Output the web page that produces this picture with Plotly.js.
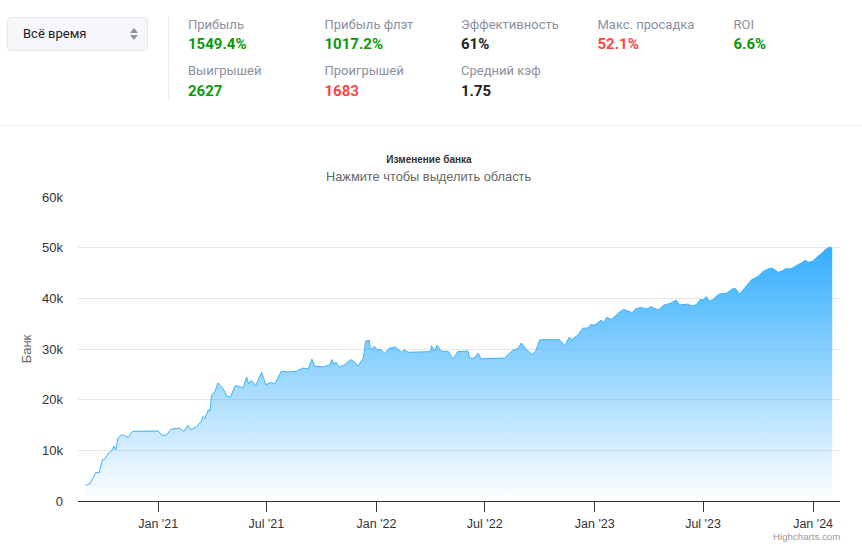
<!DOCTYPE html>
<html><head><meta charset="utf-8">
<script src="https://cdn.plot.ly/plotly-3.0.1.min.js"></script>
<style>
html,body{margin:0;padding:0;background:#fff;width:862px;height:547px;overflow:hidden;font-family:Roboto,sans-serif}
#chart{position:absolute;left:0;top:0;width:862px;height:547px}
.abs{position:absolute;white-space:nowrap}
.lab{font-size:13px;color:#8b90a0;line-height:16px}
.val{font-size:15px;font-weight:700;line-height:18px}
#sel{left:7px;top:17px;width:139px;height:32px;background:#f5f7fa;border:1px solid #e4e7ed;border-radius:4px;box-sizing:content-box}
</style></head><body>
<div id="chart"></div>
<div id="head"></div>
<script>
var baseDate = '2021-01-01';
var dayOffsets = [-121,-114,-104,-99,-93,-89,-83,-77,-74,-71,-67,-61,-56,-50,-43,0,6,13,22,36,43,50,54,64,72,75,78,84,87,89,95,100,109,115,121,128,132,142,148,151,156,163,173,180,189,195,206,217,231,242,251,257,262,276,287,291,294,297,303,312,322,329,334,343,347,353,355,362,366,373,379,386,397,407,412,418,455,457,462,466,474,485,493,501,518,521,528,535,540,579,593,602,607,616,625,631,638,671,680,687,692,702,710,719,723,730,741,745,750,758,769,778,793,797,806,817,824,836,846,856,866,872,886,892,899,907,911,917,921,927,934,939,950,959,964,967,972,977,984,992,998,1003,1011,1017,1026,1031,1037,1044,1050,1056,1062,1070,1076,1082,1087,1094,1101,1109,1116,1123,1127];
var bank = [3090,3420,5660,5530,8160,8290,9470,10000,10800,10100,12440,13100,12900,12570,13750,13820,13030,12900,14200,14400,13700,14900,14080,14600,15700,16700,16200,18000,17700,20800,21650,23300,22100,20660,20500,22600,22750,22300,24470,23150,23800,22750,25400,22950,23400,23100,25600,25460,25600,26250,26050,28000,26600,26450,26900,27900,26900,27400,26400,26900,27900,27400,26600,28200,31570,31700,29870,30500,29870,29870,29080,30130,30400,29350,29870,29350,29480,30650,29540,30720,29540,29540,28040,29480,29600,28230,28170,29200,28040,28230,29740,30130,31180,29870,28890,29540,31830,31830,30650,32290,31830,32800,34120,34120,34780,34720,35700,35180,36240,35840,37030,37820,37160,37820,38200,37900,38350,37700,38680,39000,39670,38680,38880,38480,38680,39800,39670,40330,39470,39670,40530,40870,41000,41800,42000,41670,40800,41530,42470,43670,44000,44330,45270,45670,46000,45670,45130,45470,45870,45800,46070,46670,47000,47530,47130,47330,48000,48870,49670,50130,49870];
var tickDates = ['2021-01-01','2021-07-01','2022-01-01','2022-07-01','2023-01-01','2023-07-01','2024-01-01'];
var tickLabels = ["Jan '21","Jul '21","Jan '22","Jul '22","Jan '23","Jul '23","Jan '24"];
var yTicks = [0,10000,20000,30000,40000,50000,60000];
var yLabels = ['0','10k','20k','30k','40k','50k','60k'];

var statLabels = ['Прибыль','Прибыль флэт','Эффективность','Макс. просадка','ROI','Выигрышей','Проигрышей','Средний кэф'];
var statValues = ['1549.4%','1017.2%','61%','52.1%','6.6%','2627','1683','1.75'];
var statColors = ['#0a9a0a','#0a9a0a','#222222','#ff4444','#0a9a0a','#0a9a0a','#ff4444','#222222'];
var statX = [188,324.5,461,597.5,733.5,188,324.5,461];
var statLabelY = [17,17,17,17,17,63,63,63];
var statValueY = [35,35,35,35,35,82,82,82];

var h = '<div class="abs" id="sel"></div>'
 + '<div class="abs" style="left:23px;top:26px;font-size:13px;line-height:16px;color:#222">Всё время</div>'
 + '<svg class="abs" style="left:129px;top:27px" width="10" height="14"><path d="M5 1L9 6H1Z M5 13L1 8H9Z" fill="#8f939c"/></svg>'
 + '<div class="abs" style="left:168px;top:17px;width:1px;height:83px;background:#eeeeee"></div>'
 + '<div class="abs" style="left:0;top:125px;width:862px;height:1px;background:#eeeeee"></div>';
statLabels.forEach(function(t,i){
  h += '<div class="abs lab" style="left:'+statX[i]+'px;top:'+statLabelY[i]+'px">'+t+'</div>';
  h += '<div class="abs val" style="left:'+statX[i]+'px;top:'+statValueY[i]+'px;color:'+statColors[i]+'">'+statValues[i]+'</div>';
});
document.getElementById('head').innerHTML = h;

var base = Date.parse(baseDate+'T00:00:00Z');
var dates = dayOffsets.map(function(d){return new Date(base+d*864e5).toISOString().slice(0,10);});

var trace = {
  x: dates, y: bank, type:'scatter', mode:'lines', name:'Банк',
  line:{color:'#3bb1fe',width:1},
  fill:'tozeroy',
  fillgradient:{type:'vertical',start:50000,stop:0,
    colorscale:[[0,'rgba(45,172,255,0.97)'],[1,'rgba(45,172,255,0)']]}
};
var font = 'Liberation Sans, Arial, sans-serif';
var layout = {
  width:862,height:547,
  margin:{l:78,r:22,t:196.5,b:45.5,pad:0},
  paper_bgcolor:'rgba(0,0,0,0)',plot_bgcolor:'rgba(0,0,0,0)',
  showlegend:false,
  font:{family:font,size:12,color:'#333'},
  title:{text:'<b>Изменение банка</b>',font:{family:font,size:10,color:'#333'},x:429/862,xanchor:'center',xref:'container',y:1-159/547,yanchor:'middle',yref:'container'},
  annotations:[
    {text:'Нажмите чтобы выделить область',xref:'paper',yref:'paper',x:0.4606,y:1.067,xanchor:'center',yanchor:'middle',showarrow:false,font:{family:font,size:12.8,color:'#666'}},
    {text:'Highcharts.com',xref:'paper',yref:'paper',x:1,y:-0.118,xanchor:'right',yanchor:'middle',showarrow:false,font:{family:font,size:9.7,color:'#999'},xshift:2}
  ],
  xaxis:{type:'date',range:['2020-08-20','2024-02-15'],tickmode:'array',tickvals:tickDates,ticktext:tickLabels,
    ticks:'outside',ticklen:10,tickwidth:1,tickcolor:'#333',showgrid:false,zeroline:false,showline:true,linecolor:'#333',linewidth:1,
    ticklabelstandoff:1,tickfont:{family:font,size:12.5,color:'#333'}},
  yaxis:{range:[0,60000],tickmode:'array',tickvals:yTicks,ticktext:yLabels,showgrid:true,gridcolor:'#e6e6e6',gridwidth:1,zeroline:false,showline:false,
    ticks:'',ticklabelstandoff:14,tickfont:{family:font,size:13,color:'#333'},
    title:{text:'Банк',font:{family:font,size:13,color:'#666'},standoff:7}}
};
Plotly.newPlot('chart',[trace],layout,{displayModeBar:false,responsive:false});
</script></body></html>
